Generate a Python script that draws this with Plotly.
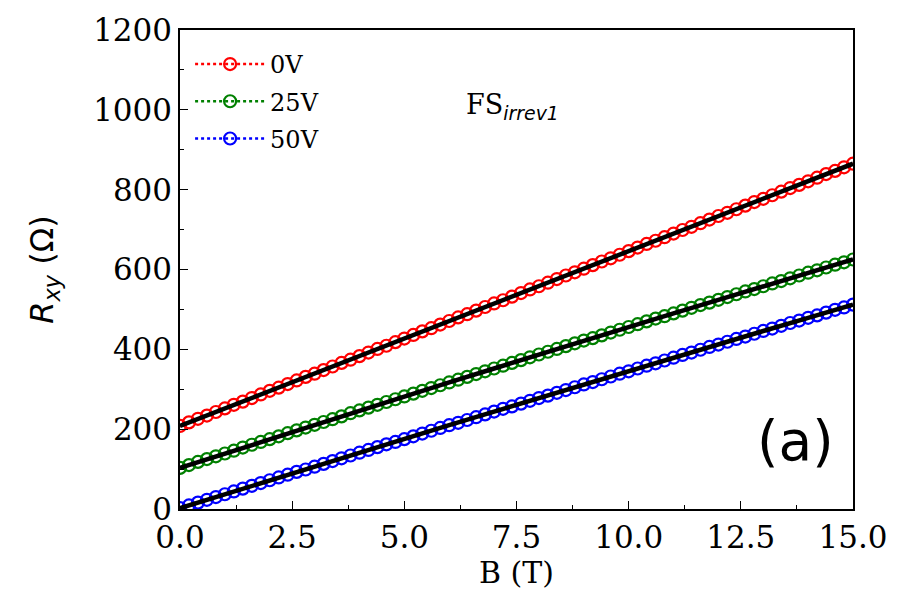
import plotly.graph_objects as go

B = [0.0, 0.2, 0.4, 0.6, 0.8, 1.0, 1.2, 1.4, 1.6, 1.8, 2.0, 2.2, 2.4, 2.6, 2.8, 3.0,
     3.2, 3.4, 3.6, 3.8, 4.0, 4.2, 4.4, 4.6, 4.8, 5.0, 5.2, 5.4, 5.6, 5.8, 6.0,
     6.2, 6.4, 6.6, 6.8, 7.0, 7.2, 7.4, 7.6, 7.8, 8.0, 8.2, 8.4, 8.6, 8.8, 9.0,
     9.2, 9.4, 9.6, 9.8, 10.0, 10.2, 10.4, 10.6, 10.8, 11.0, 11.2, 11.4, 11.6, 11.8, 12.0,
     12.2, 12.4, 12.6, 12.8, 13.0, 13.2, 13.4, 13.6, 13.8, 14.0, 14.2, 14.4, 14.6, 14.8, 15.0]

R_0V = [208, 217, 226, 234, 243, 252, 261, 269, 278, 287, 296, 304, 313, 322, 331, 339,
        348, 357, 366, 374, 383, 392, 401, 409, 418, 427, 436, 445, 453, 462, 471,
        480, 488, 497, 506, 515, 523, 532, 541, 550, 558, 567, 576, 585, 593, 602,
        611, 620, 628, 637, 646, 655, 664, 672, 681, 690, 699, 707, 716, 725, 734,
        742, 751, 760, 769, 777, 786, 795, 804, 812, 821, 830, 839, 847, 856, 865]

R_25V = [103, 110, 118, 125, 132, 139, 146, 154, 161, 168, 175, 182, 190, 197, 204, 211,
         218, 225, 232, 240, 247, 254, 261, 268, 275, 282, 289, 296, 303, 310, 317,
         324, 331, 338, 345, 352, 359, 366, 373, 380, 387, 394, 401, 408, 415, 422,
         428, 435, 442, 449, 456, 463, 470, 477, 483, 490, 497, 504, 511, 517, 524,
         531, 538, 545, 551, 558, 565, 571, 578, 585, 592, 598, 605, 612, 618, 625]

R_50V = [2, 9, 16, 23, 30, 37, 44, 51, 58, 65, 72, 79, 86, 93, 99, 106,
         113, 120, 127, 134, 141, 148, 155, 162, 168, 175, 182, 189, 196, 203, 210,
         216, 223, 230, 237, 244, 251, 257, 264, 271, 278, 284, 291, 298, 305, 312,
         318, 325, 332, 339, 345, 352, 359, 365, 372, 379, 386, 392, 399, 406, 412,
         419, 426, 432, 439, 446, 452, 459, 466, 472, 479, 485, 492, 499, 505, 512]

# Fit curves (black lines)
B_fit = [0, 1, 2, 3, 4, 5, 6, 7, 8, 9, 10, 11, 12, 13, 14, 15]
fit_0V = [208, 252, 296, 339, 383, 427, 471, 515, 558, 602, 646, 690, 734, 777, 821, 865]
fit_25V = [103, 139, 175, 211, 247, 282, 317, 352, 387, 422, 456, 490, 524, 558, 592, 625]
fit_50V = [2, 37, 72, 106, 141, 175, 210, 244, 278, 312, 345, 379, 412, 446, 479, 512]

labels = ["0V", "25V", "50V"]
colors = ["red", "green", "blue"]
series = [R_0V, R_25V, R_50V]
fits = [fit_0V, fit_25V, fit_50V]

fig = go.Figure()
for lab, col, ys in zip(labels, colors, series):
    fig.add_trace(go.Scatter(
        x=B, y=ys, name=lab, mode="lines+markers", legendgroup=lab,
        line=dict(color=col, width=2.5, dash="dot"),
        marker=dict(symbol="circle-open", size=12, color=col, line=dict(width=2.2, color=col)),
    ))
for f in fits:
    fig.add_trace(go.Scatter(
        x=B_fit, y=f, mode="lines", showlegend=False,
        line=dict(color="black", width=4.5),
        hoverinfo="skip",
    ))

axis_common = dict(
    showline=True, linecolor="black", linewidth=1.5, mirror=True,
    ticks="inside", ticklen=8, tickwidth=1.2, tickcolor="black",
    showgrid=False, zeroline=False,
    tickfont=dict(family="DejaVu Serif", size=31, color="black"),
)

fig.update_xaxes(
    range=[0, 15], tickmode="array",
    tickvals=[0, 2.5, 5, 7.5, 10, 12.5, 15],
    ticktext=["0.0", "2.5", "5.0", "7.5", "10.0", "12.5", "15.0"],
    minor=dict(ticks="inside", ticklen=4, tickwidth=1, tickcolor="black",
               tickvals=[1.25, 3.75, 6.25, 8.75, 11.25, 13.75], showgrid=False),
    title=dict(text="B (T)", font=dict(family="DejaVu Serif", size=30, color="black"), standoff=6),
    **axis_common,
)
fig.update_yaxes(
    range=[0, 1200], tickmode="array",
    tickvals=[0, 200, 400, 600, 800, 1000, 1200],
    minor=dict(ticks="inside", ticklen=4, tickwidth=1, tickcolor="black",
               tickvals=[100, 300, 500, 700, 900, 1100], showgrid=False),
    title=dict(text="<i>R</i><sub><i>xy</i></sub> (Ω)",
               font=dict(family="DejaVu Sans", size=32, color="black"), standoff=30),
    **axis_common,
)

fig.add_annotation(
    x=0.5, y=0.88, xref="paper", yref="paper", showarrow=False, xanchor="left",
    xshift=-53,
    text="FS<sub><span style='font-family:DejaVu Sans'><i>irrev1</i></span></sub>",
    font=dict(family="DejaVu Serif", size=27, color="black"),
)
fig.add_annotation(
    x=0.975, y=0.07, xref="paper", yref="paper", showarrow=False,
    xanchor="right", yanchor="bottom",
    text="(a)", font=dict(family="DejaVu Sans", size=55, color="black"),
)

fig.update_layout(
    width=900, height=600,
    margin=dict(l=180, r=45, t=30, b=91),
    plot_bgcolor="white", paper_bgcolor="white",
    showlegend=True,
    legend=dict(x=0.015, y=0.975, xanchor="left", yanchor="top",
                font=dict(family="DejaVu Serif", size=24, color="black"),
                bgcolor="rgba(0,0,0,0)", tracegroupgap=3, itemwidth=70),
)

fig.write_html("out.html")
